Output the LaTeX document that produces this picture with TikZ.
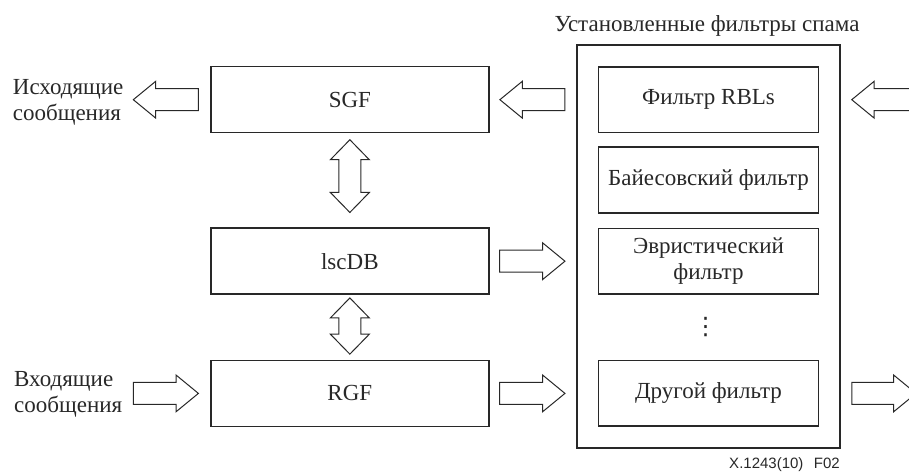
\documentclass[tikz,border=0pt]{standalone}
\usepackage{fontspec}
\setmainfont{Liberation Serif}
\newfontfamily\figsans{Liberation Sans}
\newfontfamily\symfont{DejaVu Sans}
\usetikzlibrary{calc}
\definecolor{ink}{RGB}{40,40,40}

\tikzset{
  base/.style={font=\fontsize{23}{26}\selectfont, text=ink},
  block/.style={base, draw=ink, line width=1.5pt, minimum width=278pt,
    minimum height=66pt, inner sep=0pt},
  filterbox/.style={block, minimum width=219.6pt, minimum height=65.5pt, align=center},
  container/.style={draw=ink, line width=1.5pt, minimum width=263pt,
    minimum height=403pt, inner sep=0pt},
  arrowshape/.style={draw=ink, line width=1pt, fill=white, line join=miter},
  caption/.style={base, align=left, inner sep=0pt},
}

% Hollow block arrow: #1 = tip, #2 = tail
\newcommand\singlearrow[2]{%
  \coordinate (sa-h) at ($(#1)!22.4pt!(#2)$);
  \draw[arrowshape] (#1)
    -- ($(sa-h)!18.4pt!90:(#2)$) -- ($(sa-h)!11pt!90:(#2)$)
    -- ($(#2)!11pt!-90:(sa-h)$) -- ($(#2)!11pt!90:(sa-h)$)
    -- ($(sa-h)!11pt!-90:(#2)$) -- ($(sa-h)!18.4pt!-90:(#2)$) -- cycle;
}
% Hollow double-headed block arrow between tips #1 and #2
\newcommand\doublearrow[2]{%
  \coordinate (da-a) at ($(#1)!20pt!(#2)$);
  \coordinate (da-b) at ($(#2)!20pt!(#1)$);
  \draw[arrowshape] (#1)
    -- ($(da-a)!19.5pt!90:(#2)$) -- ($(da-a)!11pt!90:(#2)$)
    -- ($(da-b)!11pt!-90:(#1)$) -- ($(da-b)!19.5pt!-90:(#1)$)
    -- (#2)
    -- ($(da-b)!19.5pt!90:(#1)$) -- ($(da-b)!11pt!90:(#1)$)
    -- ($(da-a)!11pt!-90:(#2)$) -- ($(da-a)!19.5pt!-90:(#2)$) -- cycle;
}

\begin{document}
\begin{tikzpicture}[x=1pt,y=-1pt]
  \clip (0,0) rectangle (909,473);
  \fill[white] (0,0) rectangle (909,473);

  % gateway and database blocks
  \node[block] (sgf)   at (349.85,99.7)  {SGF};
  \node[block] (lscdb) at (349.85,261.2) {lscDB};
  \node[block] (rgf)   at (349.85,393.4) {RGF};

  % spam filter group
  \node[container] (spam) at (708.5,246.5) {};
  \node[base, anchor=base] (title) at (707,31.7) {Установленные фильтры спама};
  \node[filterbox] (rbl)   at (708.5,99.7)  {Фильтр RBLs};
  \node[filterbox] (bayes) at (708.5,180)   {Байесовский фильтр};
  \node[filterbox] (heur)  at (708.5,261.2) {Эвристический\\фильтр};
  \node[base] (more) at (705.5,327) {\symfont\fontsize{24}{24}\selectfont ⋮};
  \node[filterbox] (other) at (708.5,393.4) {Другой фильтр};

  % message labels
  \node[caption, anchor=west] (outmsg) at (12.7,102) {Исходящие\\сообщения};
  \node[caption, anchor=west] (inmsg)  at (14,394.5) {Входящие\\сообщения};

  \node[anchor=base east, inner sep=0pt, text=ink,
    font=\figsans\fontsize{15}{18}\selectfont] (code) at (840,468.5)
    {X.1243(10)\hspace{0.7em}F02};

  % arrow end points
  \coordinate (outTip)   at (133.3,99.7);
  \coordinate (outTail)  at ($(sgf.west)+(-11.7,0)$);
  \coordinate (retTip)   at ($(sgf.east)+(10.3,0)$);
  \coordinate (retTail)  at ($(spam.west |- sgf.east)+(-11.3,0)$);
  \coordinate (feedTip)  at ($(spam.east |- rbl.east)+(11,0)$);
  \coordinate (feedTail) at (940,99.7);
  \coordinate (dbTail)   at ($(lscdb.east)+(10,0)$);
  \coordinate (dbTip)    at ($(spam.west |- lscdb.east)+(-11.3,0)$);
  \coordinate (rgTail)   at ($(rgf.east)+(10,0)$);
  \coordinate (rgTip)    at ($(spam.west |- rgf.east)+(-11.3,0)$);
  \coordinate (inTail)   at (133.3,393.4);
  \coordinate (inTip)    at ($(rgf.west)+(-11.7,0)$);
  \coordinate (passTail) at ($(spam.east |- other.east)+(11,0)$);
  \coordinate (passTip)  at (916,393.4);

  \singlearrow{outTip}{outTail}
  \singlearrow{retTip}{retTail}
  \singlearrow{feedTip}{feedTail}
  \singlearrow{dbTip}{dbTail}
  \singlearrow{rgTip}{rgTail}
  \singlearrow{inTip}{inTail}
  \singlearrow{passTip}{passTail}

  \doublearrow{$(sgf.south)+(0,6.3)$}{$(lscdb.north)+(0,-15)$}
  \doublearrow{$(lscdb.south)+(0,3)$}{$(rgf.north)+(0,-5.5)$}
\end{tikzpicture}
\end{document}
